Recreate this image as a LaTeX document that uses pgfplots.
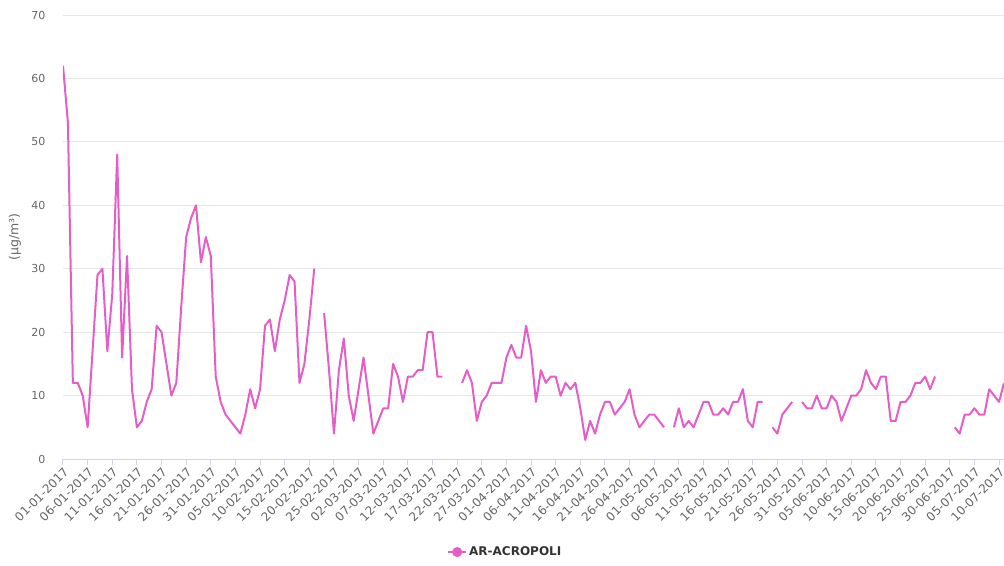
\documentclass[border=0pt]{standalone}
\usepackage{fontspec}
\setmainfont{DejaVu Sans}
\usepackage{pgfplots}
\usepackage{pgfplotstable}
\pgfplotsset{compat=1.18}

\definecolor{acropoli}{RGB}{229,94,200}
\definecolor{gridgray}{RGB}{230,230,230}
\definecolor{axisblue}{RGB}{204,214,235}
\definecolor{labelgray}{RGB}{102,102,102}
\definecolor{legendtext}{RGB}{51,51,51}

% daily values, day 0 = 01-01-2017; nan = no measurement
\pgfplotstableread{
day pm
0 62
1 53
2 12
3 12
4 10
5 5
6 17
7 29
8 30
9 17
10 26
11 48
12 16
13 32
14 11
15 5
16 6
17 9
18 11
19 21
20 20
21 15
22 10
23 12
24 24
25 35
26 38
27 40
28 31
29 35
30 32
31 13
32 9
33 7
34 6
35 5
36 4
37 7
38 11
39 8
40 11
41 21
42 22
43 17
44 22
45 25
46 29
47 28
48 12
49 15
50 22
51 30
52 nan
53 23
54 14
55 4
56 14
57 19
58 10
59 6
60 11
61 16
62 10
63 4
64 6
65 8
66 8
67 15
68 13
69 9
70 13
71 13
72 14
73 14
74 20
75 20
76 13
77 13
78 nan
79 nan
80 nan
81 12
82 14
83 12
84 6
85 9
86 10
87 12
88 12
89 12
90 16
91 18
92 16
93 16
94 21
95 17
96 9
97 14
98 12
99 13
100 13
101 10
102 12
103 11
104 12
105 8
106 3
107 6
108 4
109 7
110 9
111 9
112 7
113 8
114 9
115 11
116 7
117 5
118 6
119 7
120 7
121 6
122 5
123 nan
124 5
125 8
126 5
127 6
128 5
129 7
130 9
131 9
132 7
133 7
134 8
135 7
136 9
137 9
138 11
139 6
140 5
141 9
142 9
143 nan
144 5
145 4
146 7
147 8
148 9
149 nan
150 9
151 8
152 8
153 10
154 8
155 8
156 10
157 9
158 6
159 8
160 10
161 10
162 11
163 14
164 12
165 11
166 13
167 13
168 6
169 6
170 9
171 9
172 10
173 12
174 12
175 13
176 11
177 13
178 nan
179 nan
180 nan
181 5
182 4
183 7
184 7
185 8
186 7
187 7
188 11
189 10
190 9
191 12
}\dataAR

\begin{document}
\begin{tikzpicture}
\path[use as bounding box] (-63pt,-106pt) rectangle (941pt,459pt);
\begin{axis}[
    scale only axis,
    width=941pt,
    height=444pt,
    xmin=0, xmax=191,
    ymin=0, ymax=70,
    axis lines*=left,
    x axis line style={-, draw=axisblue, line width=1pt},
    y axis line style={draw=none},
    ytick={0,10,...,70},
    xtick={0,5,...,190},
    xticklabels={01-01-2017,06-01-2017,11-01-2017,16-01-2017,21-01-2017,26-01-2017,31-01-2017,05-02-2017,10-02-2017,15-02-2017,20-02-2017,25-02-2017,02-03-2017,07-03-2017,12-03-2017,17-03-2017,22-03-2017,27-03-2017,01-04-2017,06-04-2017,11-04-2017,16-04-2017,21-04-2017,26-04-2017,01-05-2017,06-05-2017,11-05-2017,16-05-2017,21-05-2017,26-05-2017,31-05-2017,05-06-2017,10-06-2017,15-06-2017,20-06-2017,25-06-2017,30-06-2017,05-07-2017,10-07-2017},
    tick align=outside,
    major tick length=6pt,
    xtick style={draw=axisblue, line width=1pt},
    ytick style={draw=none},
    ymajorgrids=true,
    grid style={gridgray, line width=1pt},
    /pgf/number format/assume math mode=true,
    tick label style={text=labelgray},
    yticklabel style={font=\fontsize{11}{13}\selectfont, anchor=east, xshift=-8pt},
    xticklabel style={font=\fontsize{12}{14}\selectfont, rotate=45, anchor=north east, inner sep=1pt},
    ylabel={(μg/m³)},
    every axis y label/.style={at={(axis description cs:-0.051,0.5)}, anchor=center, rotate=90, font=\fontsize{12.5}{14}\selectfont, text=labelgray},
    unbounded coords=jump,
    legend entries={AR-ACROPOLI},
    legend style={at={(axis description cs:0.47,-0.2095)}, anchor=center, draw=none, fill=none,
        font=\bfseries\fontsize{12}{14}\selectfont, text=legendtext},
    legend image code/.code={
        \draw[acropoli, line width=2pt] (0pt,0pt) -- (18pt,0pt);
        \fill[acropoli] (9pt,0pt) circle (4pt);
    },
]
\addplot[acropoli, line width=2pt, no markers, line join=round] table[x=day, y=pm] {\dataAR};
\end{axis}
\end{tikzpicture}
\end{document}
